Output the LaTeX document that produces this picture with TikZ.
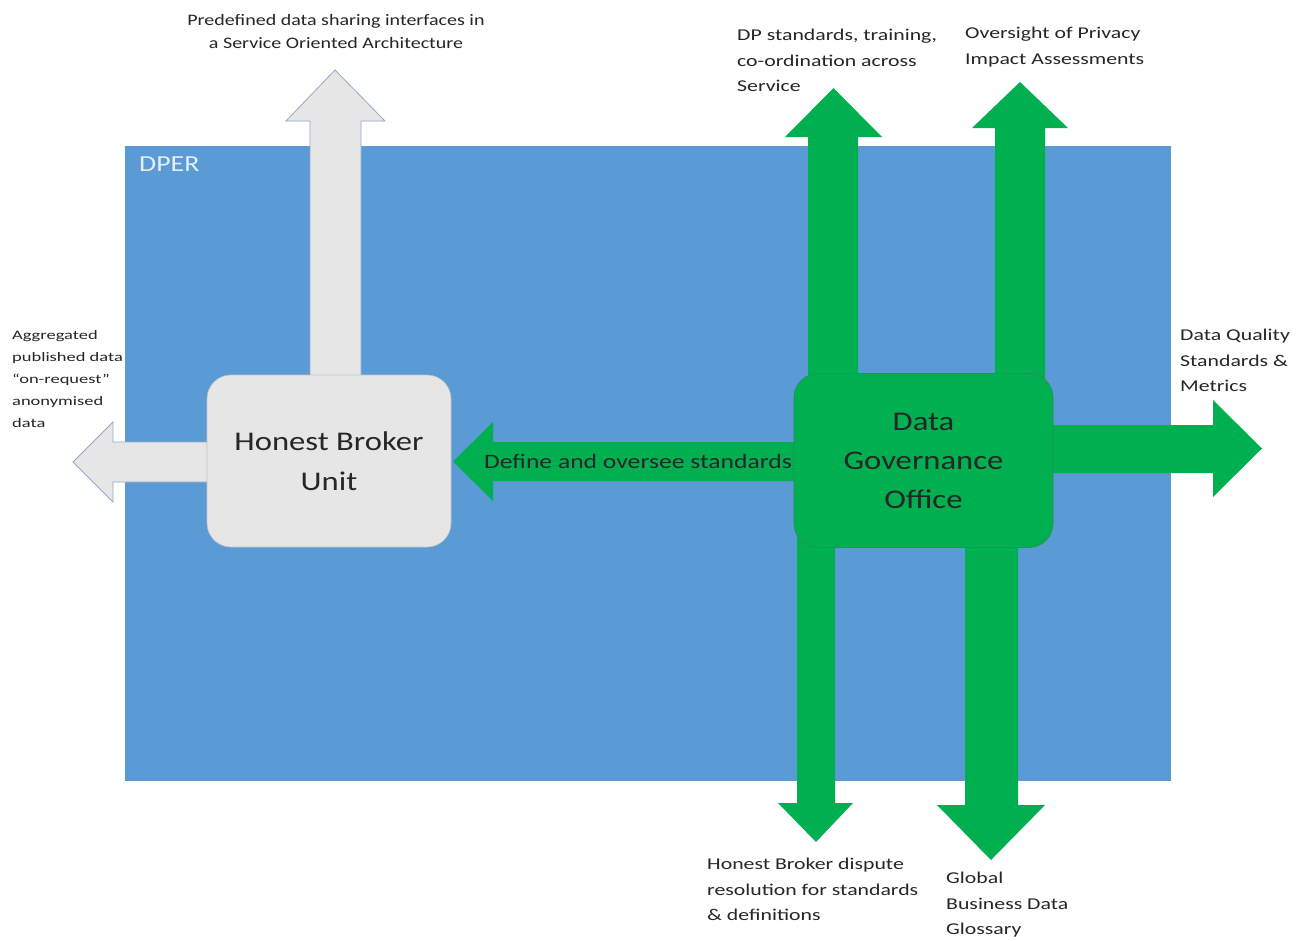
\documentclass[tikz,border=0pt]{standalone}
\usepackage{fontspec}
\setmainfont{Carlito}
\newfontfamily\boxfont{Carlito}[FakeStretch=1.21]
\newfontfamily\midfont{Carlito}[FakeStretch=1.25]
\newfontfamily\lblfont{Carlito}[FakeStretch=1.32]
\newfontfamily\smallfont{Carlito}[FakeStretch=1.42]
\definecolor{dperblue}{HTML}{5B9BD5}
\definecolor{hbgray}{HTML}{E7E6E6}
\definecolor{grayedge}{HTML}{8FAACC}
\definecolor{dgogreen}{HTML}{00B050}
\definecolor{dgoedge}{HTML}{2E8B57}
\definecolor{labeltext}{HTML}{262626}
\definecolor{dpertext}{HTML}{E3EEF9}
\begin{document}
\begin{tikzpicture}[x=1pt,y=-1pt,
  bluebg/.style={fill=dperblue, draw=none},
  grayarrow/.style={fill=hbgray, draw=grayedge, line width=0.8pt, line join=miter},
  greenarrow/.style={fill=dgogreen, draw=none},
  hbbox/.style={fill=hbgray, draw=hbgray!85!black, line width=0.6pt, rounded corners=24pt,
    minimum width=244pt, minimum height=172pt, align=center, text=black!85,
    font=\boxfont\fontsize{27}{40}\selectfont},
  dgobox/.style={fill=dgogreen, draw=dgoedge, line width=0.6pt, rounded corners=24pt,
    minimum width=259pt, minimum height=174pt, align=center, text=black!85,
    font=\boxfont\fontsize{27}{39}\selectfont},
  lbl/.style={anchor=north west, inner sep=0pt, align=left, text=labeltext,
    font=\lblfont\fontsize{16.5}{25.5}\selectfont},
  smalllbl/.style={anchor=north west, inner sep=0pt, align=left, text=labeltext,
    font=\smallfont\fontsize{13}{22}\selectfont},
]
\useasboundingbox (0,0) rectangle (1301,940);
\fill[white] (0,0) rectangle (1301,940);
% DPER area
\path[bluebg] (125,146) rectangle (1171,781);
\node[anchor=west, inner sep=0pt, text=dpertext, font=\boxfont\fontsize{23}{26}\selectfont] (dper) at (139,164) {DPER};

% gray arrows from Honest Broker Unit
\path[grayarrow] (310,380) -- (310,121) -- (286,121) -- (335,70) -- (385,121) -- (361,121) -- (361,380) -- cycle;
\path[grayarrow] (212,442) -- (113,442) -- (113,422) -- (73,462) -- (113,502) -- (113,482) -- (212,482) -- cycle;

% green arrows from Data Governance Office
\path[greenarrow] (808,400) -- (808,137) -- (785,137) -- (833.5,88) -- (882,137) -- (858,137) -- (858,400) -- cycle;
\path[greenarrow] (995,400) -- (995,128) -- (972,128) -- (1020,82) -- (1068,128) -- (1045,128) -- (1045,400) -- cycle;
\path[greenarrow] (1030,425) -- (1213,425) -- (1213,400) -- (1262,448.5) -- (1213,497) -- (1213,473) -- (1030,473) -- cycle;
\path[greenarrow] (797,520) -- (797,803) -- (778,803) -- (816,842) -- (853,803) -- (835,803) -- (835,520) -- cycle;
\path[greenarrow] (965,520) -- (965,805) -- (937,805) -- (991,860) -- (1045,805) -- (1018,805) -- (1018,520) -- cycle;
\path[greenarrow] (800,442) -- (493,442) -- (493,422) -- (453,461.5) -- (493,501) -- (493,481) -- (800,481) -- cycle;

% boxes
\node[hbbox] (hb) at (329,461) {Honest Broker\\Unit};
\node[dgobox] (dgo) at (923.5,460.5) {Data\\Governance\\Office};
\node[text=labeltext, font=\midfont\fontsize{20.5}{24}\selectfont, inner sep=0pt] (define) at (638,461) {Define and oversee standards};

% labels
\node[anchor=north, inner sep=0pt, align=center, text=labeltext, font=\midfont\fontsize{16}{23}\selectfont] (soa) at (336,14) {Predefined data sharing interfaces in\\a Service Oriented Architecture};
\node[smalllbl] (agg) at (12,330) {Aggregated\\published data\\“on-request”\\anonymised\\data};
\node[lbl] (dp) at (737,29) {DP standards, training,\\co-ordination across\\Service};
\node[lbl] (pia) at (965,27) {Oversight of Privacy\\Impact Assessments};
\node[lbl] (dq) at (1180,329) {Data Quality\\Standards \&\\Metrics};
\node[lbl] (hbd) at (707,858) {Honest Broker dispute\\resolution for standards\\\& definitions};
\node[lbl] (gbd) at (946,872) {Global\\Business Data\\Glossary};
\end{tikzpicture}
\end{document}
